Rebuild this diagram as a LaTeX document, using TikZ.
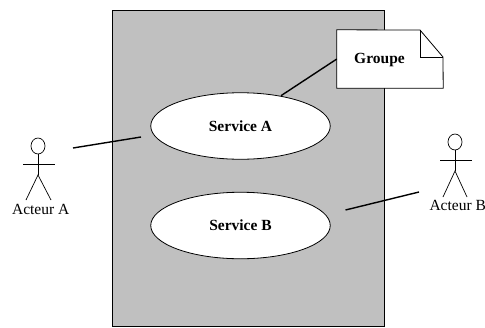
\documentclass[tikz,border=0pt]{standalone}
\usepackage{fontspec}
\setmainfont{Liberation Serif}
\usetikzlibrary{shapes.geometric}
\definecolor{boxgray}{RGB}{192,192,192}
\tikzset{
  service/.style={ellipse,draw=black,fill=white,line width=0.8pt,minimum width=179.5pt,minimum height=66.5pt,inner sep=0pt,font=\fontsize{15.5}{17}\selectfont\bfseries},
  head/.style={ellipse,draw=black,line width=0.7pt,minimum width=14pt,minimum height=16pt,inner sep=0pt},
  lien/.style={line width=1.4pt},
  trait/.style={line width=0.7pt},
  label/.style={inner sep=0pt,font=\fontsize{15.5}{17}\selectfont},
  labelgras/.style={inner sep=0pt,font=\fontsize{15.5}{17}\selectfont\bfseries}
}
\begin{document}
\begin{tikzpicture}[x=1pt,y=1pt]
\useasboundingbox (0,-327) rectangle (485,0);
\draw [black,fill=boxgray,line width=0.8pt] (112,-10) rectangle (384,-326);
\node [service] (serviceA) at (240.5,-126) {Service A};
\node [service] (serviceB) at (240.5,-225.5) {Service B};
\node [minimum width=106pt,minimum height=58pt,inner sep=0pt] (groupe) at (390,-59) {};
\coordinate (plisH) at (420,-30);
\coordinate (plisD) at (443,-57);
\coordinate (plisC) at (420,-57);
\draw [black,fill=white,line width=0.8pt] (groupe.north west) -- (plisH) -- (plisD) -- (groupe.south east) -- (groupe.south west) -- cycle;
\draw [black,line width=0.8pt] (plisH) -- (plisC) -- (plisD);
\node [labelgras] (groupeTexte) at (379.5,-60) {Groupe};
\draw [black,lien] (groupe.west) -- (281,-95.7);
% Acteur A
\node [head] (teteA) at (38,-146) {};
\coordinate (basA) at (38,-175);
\coordinate (brasAg) at (23,-164);
\coordinate (brasAd) at (55,-164);
\coordinate (piedAg) at (26,-200);
\coordinate (piedAd) at (51,-200);
\draw [black,trait] (teteA.south) -- (basA);
\draw [black,trait] (brasAg) -- (brasAd);
\draw [black,trait] (piedAg) -- (basA) -- (piedAd);
\node [label] (acteurA) at (40.7,-209.5) {Acteur A};
\coordinate (lienAa) at (73,-148);
\coordinate (lienAb) at (141,-137);
\draw [black,lien] (lienAa) -- (lienAb);
% Acteur B
\node [head] (teteB) at (455,-142) {};
\coordinate (basB) at (455,-171);
\coordinate (brasBg) at (440,-160);
\coordinate (brasBd) at (472,-160);
\coordinate (piedBg) at (443,-197);
\coordinate (piedBd) at (467,-197);
\draw [black,trait] (teteB.south) -- (basB);
\draw [black,trait] (brasBg) -- (brasBd);
\draw [black,trait] (piedBg) -- (basB) -- (piedBd);
\node [label] (acteurB) at (457.7,-205.5) {Acteur B};
\coordinate (lienBa) at (345.5,-210);
\coordinate (lienBb) at (419,-192);
\draw [black,lien] (lienBa) -- (lienBb);
\end{tikzpicture}
\end{document}
